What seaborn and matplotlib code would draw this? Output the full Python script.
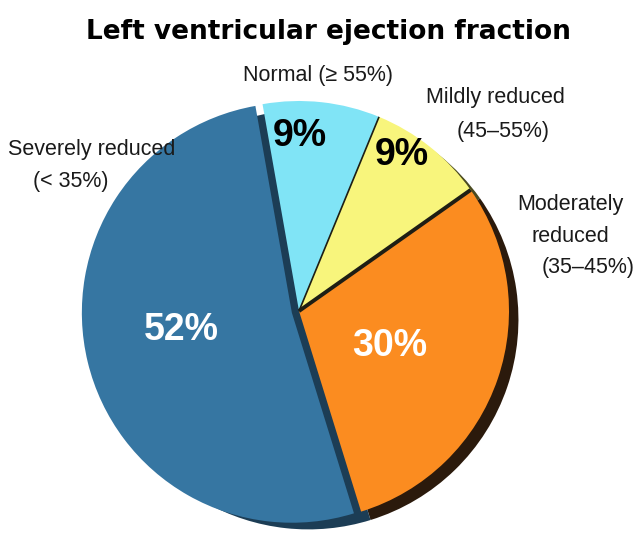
import matplotlib
matplotlib.use("Agg")
import matplotlib.pyplot as plt
import seaborn as sns
import numpy as np

sns.set_theme(style="white")
plt.rcParams['font.family'] = ['Liberation Sans', 'DejaVu Sans']

# ---- data ----
categories = ["Normal (≥ 55%)", "Mildly reduced (45–55%)",
              "Moderately reduced (35–45%)", "Severely reduced (< 35%)"]
values = [9, 9, 30, 52]
pct_labels = ["9%", "9%", "30%", "52%"]
face_colors = ["#80e4f6", "#f8f57c", "#fb8c20", "#3676a2"]
shadow_colors = ["#2f5560", "#4a4a20", "#2b1a0c", "#1c3d55"]
pct_colors = ["black", "black", "white", "white"]

W, H = 640, 534
fig = plt.figure(figsize=(W / 100, H / 100), dpi=100)
ax = fig.add_axes([0, 0, 1, 1])

cx, cy, R = 299, 311, 210  # pie placement in pixels

# shadow / side of the pie
ax.pie(values, colors=shadow_colors, startangle=100, counterclock=False,
       center=(0.045, -0.04), radius=1.0,
       wedgeprops=dict(linewidth=0))

# main faces
wedges, _ = ax.pie(values, colors=face_colors, startangle=100, counterclock=False,
                   center=(0, 0), radius=1.0,
                   explode=[0, 0, 0, 0.035],
                   wedgeprops=dict(linewidth=0))

# separators between cyan/yellow and yellow/orange
for w, lw in [(wedges[0], 1.2), (wedges[1], 2.8)]:
    th = np.deg2rad(w.theta1)
    x0, y0 = w.center
    ax.plot([x0, x0 + w.r * np.cos(th)], [y0, y0 + w.r * np.sin(th)],
            color="#1e1e14", lw=lw, solid_capstyle="butt", zorder=5)

ax.set_aspect("auto")
ax.set_xlim(-cx / R, (W - cx) / R)
ax.set_ylim(-(H - cy) / R, cy / R)
ax.set_axis_off()


def fx(px):
    return px / W


def fy(py):
    return 1 - py / H


# percentages
pct_pos = [(300, 136), (402, 155), (390, 346), (181, 330)]
for t, (px, py), c in zip(pct_labels, pct_pos, pct_colors):
    fig.text(fx(px), fy(py), t, ha="center", va="center", color=c,
             fontsize=27, fontweight="bold")

# category labels
lab_kw = dict(ha="center", va="center", color="#1a1a1a", fontsize=15.5)
fig.text(fx(318), fy(75), "Normal (≥ 55%)", **lab_kw)
fig.text(fx(495), fy(98), "Mildly reduced", **lab_kw)
fig.text(fx(503), fy(132), "(45–55%)", **lab_kw)
fig.text(fx(570), fy(205), "Moderately", **lab_kw)
fig.text(fx(570), fy(237), "reduced", **lab_kw)
fig.text(fx(588), fy(268), "(35–45%)", **lab_kw)
fig.text(fx(92), fy(150), "Severely reduced", **lab_kw)
fig.text(fx(71), fy(182), "(< 35%)", **lab_kw)

# title
fig.text(fx(328), fy(32), "Left ventricular ejection fraction", ha="center",
         va="center", fontsize=19, fontweight="bold", color="black",
         family=["DejaVu Sans"])

fig.savefig("out.png", dpi=100)
